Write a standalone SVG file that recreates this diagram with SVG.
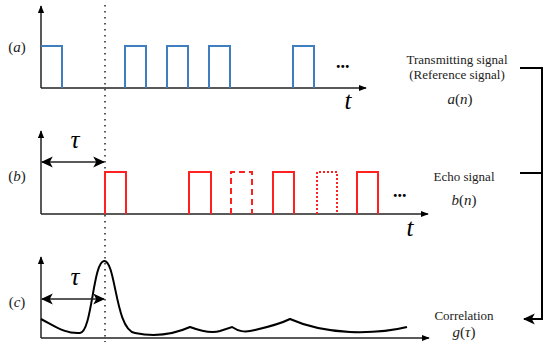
<svg xmlns="http://www.w3.org/2000/svg" width="550" height="351" viewBox="0 0 550 351">
<defs>
<marker id="ah" viewBox="0 0 10 10" refX="9" refY="5" markerWidth="8" markerHeight="8" markerUnits="userSpaceOnUse" orient="auto-start-reverse"><path d="M0,1 L10,5 L0,9 z" fill="#000"/></marker>
<marker id="ah2" viewBox="0 0 10 10" refX="9" refY="5" markerWidth="12" markerHeight="12" markerUnits="userSpaceOnUse" orient="auto-start-reverse"><path d="M0,0.5 L10,5 L0,9.5 L2.5,5 z" fill="#000"/></marker>
<style>
.ax{stroke:#222;stroke-width:1.5;fill:none}
.blue{stroke:#3f7fc0;stroke-width:2;fill:none}
.red{stroke:#ff2020;stroke-width:2;fill:none}
text{font-family:"Liberation Serif","Times New Roman","DejaVu Serif",serif}
.lbl{font-size:13px;fill:#222;text-anchor:middle}
.math{font-size:15px;fill:#222;text-anchor:middle}
.it{font-style:italic}
.big{font-style:italic;font-size:25px;fill:#000;text-anchor:middle}
.dots{font-size:18px;font-weight:bold;fill:#000}
.br{stroke:#000;stroke-width:2;fill:none}
</style>
</defs>
<g id="dotline"><line x1="105" y1="5" x2="105" y2="342" stroke="#222" stroke-width="1.5" stroke-dasharray="1.5,4.5"/></g>
<g id="panel-a">
<line class="ax" x1="41" y1="88" x2="41" y2="6" marker-end="url(#ah)"/>
<line class="ax" x1="41" y1="88" x2="366" y2="88" marker-end="url(#ah)"/>
<path class="blue" d="M41,46 H62 V88 M125,88 V46 H146 V88 M167,88 V46 H188 V88 M209,88 V46 H230 V88 M293,88 V46 H314 V88"/>
<text class="dots" x="336" y="68">...</text>
<text class="big" x="348" y="109">t</text>
<text class="math" x="17" y="52">(<tspan class="it">a</tspan>)</text>
</g>
<g id="panel-b">
<line class="ax" x1="41" y1="214" x2="41" y2="131" marker-end="url(#ah)"/>
<line class="ax" x1="41" y1="214" x2="428" y2="214" marker-end="url(#ah)"/>
<path class="red" d="M105,214 V172 H126 V214 M189,214 V172 H211 V214 M273,214 V172 H294 V214 M357,214 V172 H378 V214"/>
<path class="red" stroke-dasharray="6,4" d="M231,214 V172 H252 V214"/>
<path class="red" stroke-dasharray="2,2" d="M317,214 V172 H337 V214"/>
<text class="dots" x="393" y="197">...</text>
<text class="big" x="410" y="236">t</text>
<text class="math" x="17" y="181">(<tspan class="it">b</tspan>)</text>
<line class="ax" x1="42" y1="162" x2="104" y2="162" marker-start="url(#ah2)" marker-end="url(#ah2)"/>
<text class="big" x="75" y="148">τ</text>
</g>
<g id="panel-c">
<line class="ax" x1="41" y1="338" x2="41" y2="257" marker-end="url(#ah)"/>
<line class="ax" x1="41" y1="338" x2="429" y2="338" marker-end="url(#ah)"/>
<path stroke="#000" stroke-width="2" fill="none" d="M41,319 C55,326 65,334 80,333 C92,332 93,262 104,261 C116,260 115,330 135,333 C150,336 170,336 190,327 C198,330 210,334 220,331 L232,327 C238,331 244,333 255,330 C268,327 280,324 290,319 C310,328 330,331 350,332 C380,333 395,330 407,327"/>
<text class="math" x="17" y="307">(<tspan class="it">c</tspan>)</text>
<line class="ax" x1="42" y1="299" x2="104" y2="299" marker-start="url(#ah2)" marker-end="url(#ah2)"/>
<text class="big" x="75" y="285">τ</text>
</g>
<g id="label-a">
<text class="lbl" x="457" y="64">Transmitting signal</text>
<text class="lbl" x="457" y="79">(Reference signal)</text>
<text class="math" x="460" y="104"><tspan class="it">a</tspan>(<tspan class="it">n</tspan>)</text>
</g>
<g id="label-b">
<text class="lbl" x="464" y="181">Echo signal</text>
<text class="math" x="464" y="205"><tspan class="it">b</tspan>(<tspan class="it">n</tspan>)</text>
</g>
<g id="label-c">
<text class="lbl" x="464" y="320">Correlation</text>
<text class="math" x="464" y="337"><tspan class="it">g</tspan>(<tspan class="it">τ</tspan>)</text>
</g>
<g id="connectors">
<path class="br" d="M520,68 H542 V319 H524" marker-end="url(#ah2)"/>
<line class="br" x1="520" y1="173" x2="542" y2="173"/>
</g>
</svg>
